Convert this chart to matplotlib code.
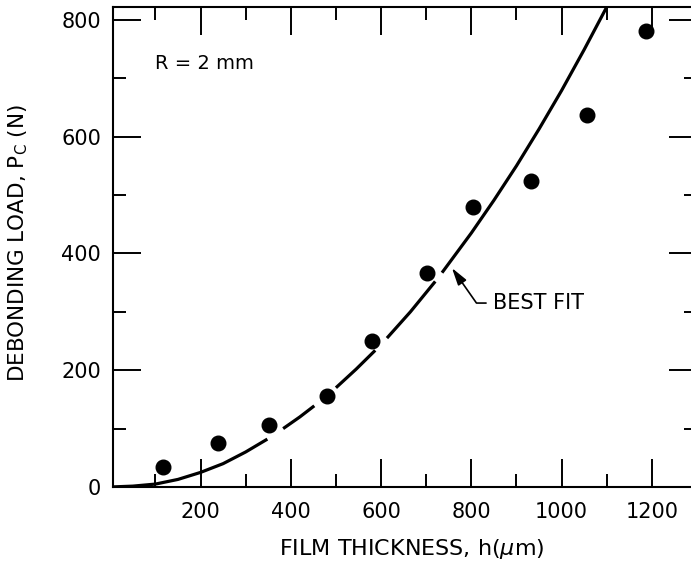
import matplotlib
matplotlib.use("Agg")
import matplotlib.pyplot as plt
from matplotlib.ticker import FixedLocator

# measured data points
thickness_um = [117, 239, 352, 480, 580, 702, 804, 932, 1056, 1187]
load_N = [34, 75, 106, 156, 250, 367, 480, 524, 637, 781]

# best-fit curve (drawn as broken segments, as in the original)
fit_x = [
    [0, 50, 100, 150, 200, 250, 300, 348],
    [383, 420, 452],
    [500, 545, 587],
    [613, 665, 720],
    [735, 800, 850, 900, 950, 1000, 1050, 1100, 1110],
]
fit_y = [
    [0, 1.5, 5, 13, 25, 40, 60, 82],
    [100, 120, 139],
    [170, 202, 234],
    [255, 300, 352],
    [367, 435, 491, 550, 613, 679, 749, 822, 836],
]

x_major = [200, 400, 600, 800, 1000, 1200]
x_minor = [100, 300, 500, 700, 900, 1100]
y_major = [0, 200, 400, 600, 800]
y_minor = [100, 300, 500, 700]

W, H = 691, 565
fig = plt.figure(figsize=(W / 100, H / 100), dpi=100)
L, R, T, B = 113, 697, 7, 487
ax = fig.add_axes([L / W, 1 - B / H, (R - L) / W, (B - T) / H])

for xs, ys in zip(fit_x, fit_y):
    ax.plot(xs, ys, color="black", lw=2.3, solid_capstyle="butt", zorder=2)

ax.plot(thickness_um, load_N, "o", color="black", ms=10.5, zorder=3)

ax.set_xlim(6, 1300)
ax.set_ylim(0, 822)

ax.xaxis.set_major_locator(FixedLocator(x_major))
ax.xaxis.set_minor_locator(FixedLocator(x_minor))
ax.yaxis.set_major_locator(FixedLocator(y_major))
ax.yaxis.set_minor_locator(FixedLocator(y_minor))

for s in ax.spines.values():
    s.set_linewidth(1.5)

ax.tick_params(which="major", direction="in", length=20, width=1.4,
               top=True, right=True, labelsize=15)
ax.tick_params(which="minor", direction="in", length=9.5, width=1.4,
               top=True, right=True)
ax.tick_params(axis="x", which="major", pad=10.5)
ax.tick_params(axis="y", which="major", pad=8.5)

ax.text(100, 726, "R = 2 mm", ha="left", va="center", fontsize=14)

ax.annotate("BEST FIT", xy=(757, 375), xytext=(848, 315),
            ha="left", va="center", fontsize=15,
            arrowprops=dict(arrowstyle="-|>,head_length=0.7,head_width=0.2",
                            connectionstyle="angle,angleA=0,angleB=125,rad=0",
                            relpos=(0, 0.5), shrinkA=3, shrinkB=0,
                            color="black", lw=1.2, mutation_scale=15))

fig.text(412 / W, 1 - 549 / H, r"FILM THICKNESS, h($\mu$m)",
         ha="center", va="center", fontsize=16)
fig.text(18 / W, 1 - 243 / H, r"DEBONDING LOAD, P$_\mathregular{C}$ (N)",
         ha="center", va="center", rotation=90, fontsize=15.5)

fig.savefig("out.png", dpi=100)
